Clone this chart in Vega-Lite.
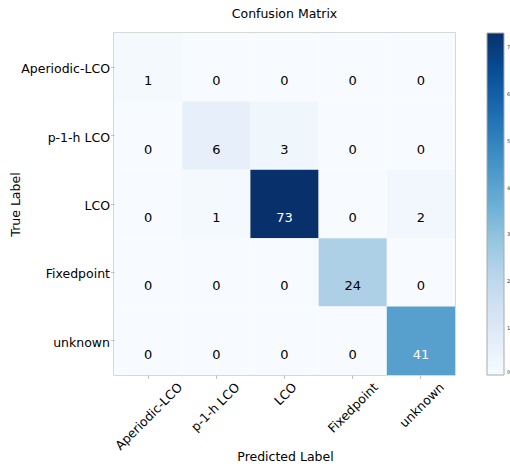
{
  "$schema": "https://vega.github.io/schema/vega-lite/v6.json",
  "autosize": "none",
  "width": 341,
  "height": 342,
  "padding": {"left": 114, "top": 33, "right": 55, "bottom": 92},
  "background": "white",
  "title": {
    "text": "Confusion Matrix",
    "font": "DejaVu Sans",
    "fontSize": 12.5,
    "fontWeight": "normal",
    "color": "#000000",
    "offset": 13
  },
  "config": {
    "font": "DejaVu Sans",
    "view": {"stroke": "#cccccc", "strokeWidth": 1.5}
  },
  "data": {
    "values": [
      {"true": "Aperiodic-LCO", "pred": "Aperiodic-LCO", "count": 1},
      {"true": "Aperiodic-LCO", "pred": "p-1-h LCO", "count": 0},
      {"true": "Aperiodic-LCO", "pred": "LCO", "count": 0},
      {"true": "Aperiodic-LCO", "pred": "Fixedpoint", "count": 0},
      {"true": "Aperiodic-LCO", "pred": "unknown", "count": 0},
      {"true": "p-1-h LCO", "pred": "Aperiodic-LCO", "count": 0},
      {"true": "p-1-h LCO", "pred": "p-1-h LCO", "count": 6},
      {"true": "p-1-h LCO", "pred": "LCO", "count": 3},
      {"true": "p-1-h LCO", "pred": "Fixedpoint", "count": 0},
      {"true": "p-1-h LCO", "pred": "unknown", "count": 0},
      {"true": "LCO", "pred": "Aperiodic-LCO", "count": 0},
      {"true": "LCO", "pred": "p-1-h LCO", "count": 1},
      {"true": "LCO", "pred": "LCO", "count": 73},
      {"true": "LCO", "pred": "Fixedpoint", "count": 0},
      {"true": "LCO", "pred": "unknown", "count": 2},
      {"true": "Fixedpoint", "pred": "Aperiodic-LCO", "count": 0},
      {"true": "Fixedpoint", "pred": "p-1-h LCO", "count": 0},
      {"true": "Fixedpoint", "pred": "LCO", "count": 0},
      {"true": "Fixedpoint", "pred": "Fixedpoint", "count": 24},
      {"true": "Fixedpoint", "pred": "unknown", "count": 0},
      {"true": "unknown", "pred": "Aperiodic-LCO", "count": 0},
      {"true": "unknown", "pred": "p-1-h LCO", "count": 0},
      {"true": "unknown", "pred": "LCO", "count": 0},
      {"true": "unknown", "pred": "Fixedpoint", "count": 0},
      {"true": "unknown", "pred": "unknown", "count": 41}
    ]
  },
  "encoding": {
    "x": {
      "field": "pred",
      "type": "nominal",
      "sort": ["Aperiodic-LCO", "p-1-h LCO", "LCO", "Fixedpoint", "unknown"],
      "scale": {"paddingInner": 0, "paddingOuter": 0},
      "axis": {
        "title": "Predicted Label",
        "titleFont": "DejaVu Sans",
        "titleFontSize": 12.5,
        "titleFontWeight": "normal",
        "titleColor": "#000000",
        "titleX": 171,
        "titleY": 81,
        "titleBaseline": "middle",
        "domain": false,
        "ticks": true,
        "tickSize": 3.5,
        "tickColor": "#b0b0b0",
        "tickWidth": 0.8,
        "labelAngle": -45,
        "labelAlign": "right",
        "labelBaseline": "top",
        "labelPadding": 2,
        "labelFont": "DejaVu Sans",
        "labelFontSize": 12.5,
        "labelColor": "#000000",
        "labelOffset": {
          "condition": [
            {"test": "datum.value === 'Aperiodic-LCO'", "value": 28},
            {"test": "datum.value === 'p-1-h LCO'", "value": 17},
            {"test": "datum.value === 'LCO'", "value": 6},
            {"test": "datum.value === 'Fixedpoint'", "value": 19},
            {"test": "datum.value === 'unknown'", "value": 17}
          ],
          "value": 0
        }
      }
    },
    "y": {
      "field": "true",
      "type": "nominal",
      "sort": ["Aperiodic-LCO", "p-1-h LCO", "LCO", "Fixedpoint", "unknown"],
      "scale": {"paddingInner": 0, "paddingOuter": 0},
      "axis": {
        "title": "True Label",
        "titleFont": "DejaVu Sans",
        "titleFontSize": 12.5,
        "titleFontWeight": "normal",
        "titleColor": "#000000",
        "titleX": -99,
        "titleY": 171,
        "titleAngle": -90,
        "titleAlign": "center",
        "titleBaseline": "middle",
        "domain": false,
        "ticks": true,
        "tickSize": 3.5,
        "tickColor": "#b0b0b0",
        "tickWidth": 0.8,
        "labelPadding": 1,
        "labelFont": "DejaVu Sans",
        "labelFontSize": 12.5,
        "labelColor": "#000000",
        "labelBaseline": "middle",
        "labelOffset": 2
      }
    }
  },
  "layer": [
    {
      "mark": {"type": "rect"},
      "encoding": {
        "color": {
          "field": "count",
          "type": "quantitative",
          "scale": {
            "domain": [0, 9.125, 18.25, 27.375, 36.5, 45.625, 54.75, 63.875, 73],
            "range": ["#f7fbff", "#deebf7", "#c6dbef", "#9ecae1", "#6baed6", "#4292c6", "#2171b5", "#08519c", "#08306b"],
            "interpolate": "rgb"
          },
          "legend": {
            "type": "gradient",
            "orient": "none",
            "legendX": 373,
            "legendY": 0,
            "direction": "vertical",
            "title": null,
            "gradientLength": 342,
            "gradientThickness": 17,
            "gradientStrokeColor": "#aaaaaa",
            "gradientStrokeWidth": 1,
            "values": [0, 10, 20, 30, 40, 50, 60, 70],
            "labelExpr": "format(datum.value / 10, 'd')",
            "labelFont": "DejaVu Sans",
            "labelFontSize": 5,
            "labelColor": "#333333",
            "labelOffset": 3,
            "labelOverlap": false
          }
        }
      }
    },
    {
      "mark": {"type": "text", "font": "DejaVu Sans", "fontSize": 13, "dy": 14},
      "encoding": {
        "text": {"field": "count", "type": "quantitative"},
        "color": {
          "condition": {"test": "datum.count > 36.5", "value": "#ffffff"},
          "value": "#000000"
        }
      }
    }
  ]
}
